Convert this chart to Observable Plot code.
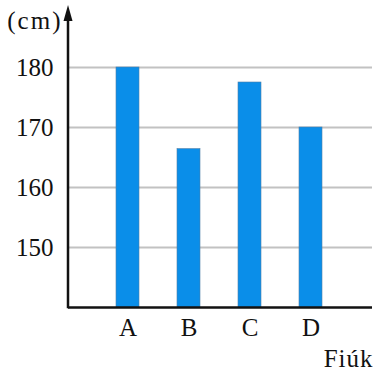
<!DOCTYPE html>
<html>
<head>
<meta charset="utf-8">
<script src="https://cdn.jsdelivr.net/npm/d3@7"></script>
<script src="https://cdn.jsdelivr.net/npm/@observablehq/plot@0.6"></script>
<style>
  html, body { margin: 0; padding: 0; background: #fff; }
  .wide text { letter-spacing: 2px; }
  .wide1 text { letter-spacing: 1px; }
</style>
</head>
<body>
<div id="chart"></div>
<script>
const categories = ["A", "B", "C", "D"];
const heights = [180, 166.4, 177.5, 170];
const yTicks = [150, 160, 170, 180];
const yUnit = "(cm)";
const xTitle = "Fiúk";

const data = categories.map((c, i) => ({name: c, height: heights[i]}));

const W = 374, H = 370;
const mLeft = 68, mRight = 2, mTop = 7, mBottom = 63;
const serif = "'Liberation Serif', 'DejaVu Serif', serif";

const chart = Plot.plot({
  width: W,
  height: H,
  marginLeft: mLeft,
  marginRight: mRight,
  marginTop: mTop,
  marginBottom: mBottom,
  style: {fontFamily: serif, fontSize: "25px", color: "#111", background: "#fff"},
  x: {
    type: "band",
    domain: categories,
    range: [96.5, 341.5],
    paddingInner: 0.63,
    paddingOuter: 0.315,
    tickSize: 0,
    tickPadding: 11,
    label: null
  },
  y: {
    domain: [140, 190],
    ticks: yTicks,
    tickSize: 0,
    tickPadding: 15,
    label: null
  },
  marks: [
    Plot.ruleY(yTicks, {stroke: "#c2c2c2", strokeWidth: 2}),
    Plot.barY(data, {x: "name", y1: 140, y2: "height", fill: "#0a8ee9", stroke: "#4d7fa8", strokeWidth: 0.6}),
    Plot.ruleY([140], {stroke: "#111", strokeWidth: 2.5}),
    Plot.text([yUnit], {frameAnchor: "top-left", textAnchor: "end", lineAnchor: "middle", dx: -6, dy: 13, fontSize: 25, fill: "#111", className: "wide"}),
    Plot.text([xTitle], {frameAnchor: "bottom-right", textAnchor: "end", lineAnchor: "middle", dx: 1, dy: 51, fontSize: 25, fill: "#111", className: "wide1"})
  ]
});

// y-axis line with arrowhead, positioned from the y scale
const ys = chart.scale("y");
const yBottom = ys.apply(140) + 1.2;
const yTop = ys.apply(190);
const svg = d3.select(chart);
svg.append("line")
  .attr("x1", mLeft).attr("x2", mLeft)
  .attr("y1", yBottom).attr("y2", yTop + 10)
  .attr("stroke", "#111").attr("stroke-width", 2.5);
svg.append("path")
  .attr("d", `M${mLeft},${yTop - 2} L${mLeft - 4.5},${yTop + 14} L${mLeft + 4.5},${yTop + 14} Z`)
  .attr("fill", "#111");

document.getElementById("chart").appendChild(chart);
</script>
</body>
</html>
